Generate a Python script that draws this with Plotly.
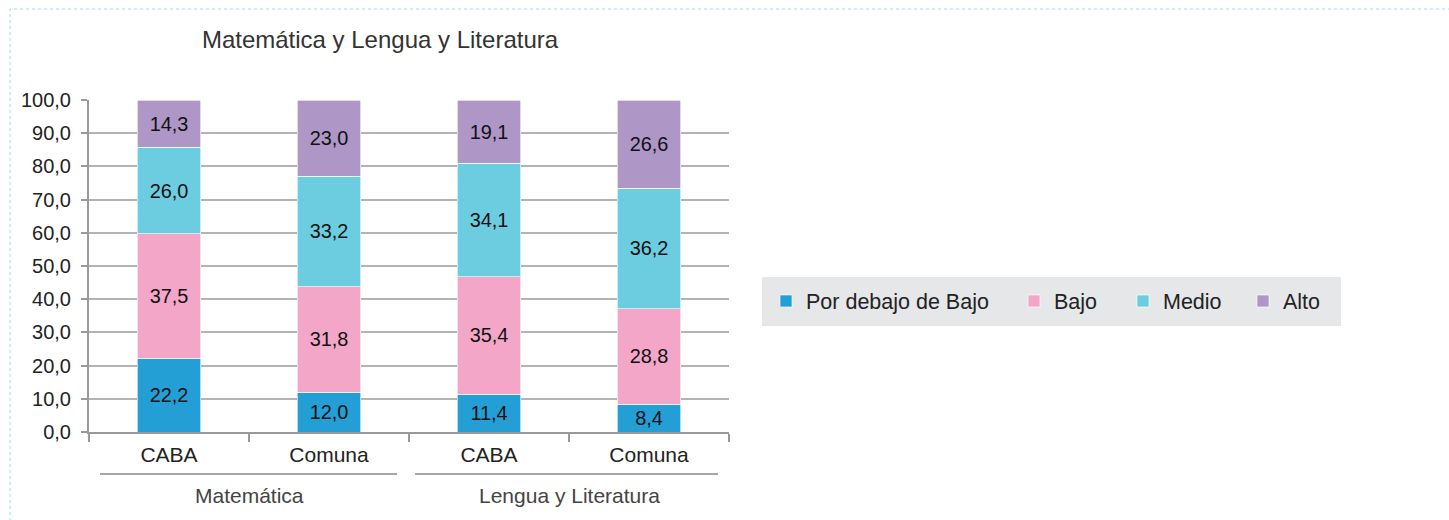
import plotly.graph_objects as go

materias = ["Matemática", "Matemática", "Lengua y Literatura", "Lengua y Literatura"]
ambitos = ["CABA", "Comuna", "CABA", "Comuna"]

niveles = ["Por debajo de Bajo", "Bajo", "Medio", "Alto"]
por_debajo = [22.2, 12.0, 11.4, 8.4]
bajo = [37.5, 31.8, 35.4, 28.8]
medio = [26.0, 33.2, 34.1, 36.2]
alto = [14.3, 23.0, 19.1, 26.6]
colores = ["#239fd6", "#f4a6c9", "#6ccde0", "#ae96c6"]

y_ticks = [0, 10, 20, 30, 40, 50, 60, 70, 80, 90, 100]

FONT = "Liberation Sans, Arial, sans-serif"

# plot area geometry (pixels)
L, R_EDGE, T, B_EDGE = 89, 729, 100, 432
W, H = 1449, 520
PW, PH = R_EDGE - L, B_EDGE - T


def px_x(x):
    return (x - L) / PW


def px_y(y):
    return (B_EDGE - y) / PH


# unique category keys built from the two label levels
claves = [f"{m} | {a}" for m, a in zip(materias, ambitos)]

legend_ids = ["legend", "legend2", "legend3", "legend4"]
legend_left_px = [766, 1014, 1123, 1243]

fig = go.Figure()
for nombre, vals, col, lid in zip(niveles, [por_debajo, bajo, medio, alto], colores, legend_ids):
    fig.add_trace(go.Bar(
        name=nombre,
        legend=lid,
        x=claves,
        y=vals,
        marker=dict(color=col, line=dict(color="rgba(255,255,255,0.8)", width=0.8)),
        texttemplate="%{y:.1f}",
        textposition="inside",
        insidetextanchor="middle",
        textfont=dict(color="#111111", size=20, family=FONT),
        hoverinfo="skip",
    ))

legend_common = dict(orientation="h", xanchor="left", y=px_y(301), yanchor="middle",
                     bgcolor="rgba(0,0,0,0)", itemwidth=30,
                     font=dict(size=21.5, color="#222222", family=FONT))
legends = {lid: dict(x=px_x(xl), **legend_common) for lid, xl in zip(legend_ids, legend_left_px)}

fig.update_layout(
    barmode="stack",
    bargap=0.604,
    separators=",.",
    width=W, height=H,
    margin=dict(l=L, r=W - R_EDGE, t=T, b=H - B_EDGE),
    paper_bgcolor="white",
    plot_bgcolor="white",
    font=dict(family=FONT, size=20, color="#222222"),
    title=dict(text="Matemática y Lengua y Literatura", x=380 / W, xref="container",
               xanchor="center", y=1 - 40 / H, yanchor="middle",
               font=dict(size=24, color="#333333", family=FONT)),
    uniformtext=dict(minsize=16, mode="show"),
    showlegend=True,
    **legends,
)

fig.update_yaxes(
    range=[0, 100], tickvals=y_ticks, tickformat=".1f",
    showgrid=True, gridcolor="#b3b3b3", gridwidth=1.5,
    showline=True, linecolor="#999999", linewidth=2,
    ticks="outside", ticklen=6, tickcolor="#999999", tickwidth=1.5,
    ticklabelstandoff=6,
    tickfont=dict(size=20, color="#222222"), zeroline=False,
)

fig.update_xaxes(
    type="category", tickvals=claves, ticktext=ambitos,
    ticks="outside", tickson="boundaries", ticklen=8, tickcolor="#999999", tickwidth=1.5,
    ticklabelstandoff=3,
    showline=True, linecolor="#999999", linewidth=2,
    tickfont=dict(size=21, color="#222222"),
)

# group (outer) labels centred under their categories
grupos = list(dict.fromkeys(materias))
for g in grupos:
    idx = [i for i, m in enumerate(materias) if m == g]
    fig.add_annotation(text=g, xref="x", yref="paper", x=sum(idx) / len(idx), y=px_y(495),
                       yanchor="middle", xanchor="center", showarrow=False,
                       font=dict(size=21, color="#444444", family=FONT))

# legend background panel
fig.add_shape(type="rect", xref="paper", yref="paper",
              x0=px_x(762), x1=px_x(1341), y0=px_y(326), y1=px_y(277),
              fillcolor="#e6e7e9", line=dict(width=0), layer="below")

# underlines below the inner category labels
line_style = dict(color="#888888", width=1.5)
fig.add_shape(type="line", xref="paper", yref="paper", x0=px_x(100), x1=px_x(397),
              y0=px_y(474), y1=px_y(474), line=line_style)
fig.add_shape(type="line", xref="paper", yref="paper", x0=px_x(415), x1=px_x(718),
              y0=px_y(474), y1=px_y(474), line=line_style)

# dotted frame
fig.add_shape(type="rect", xref="paper", yref="paper",
              x0=px_x(10), x1=px_x(1470), y0=px_y(540), y1=px_y(9),
              line=dict(color="#9fdbe4", width=1, dash="dot"), layer="below")

fig.write_html("out.html", config={"displayModeBar": False},
               post_script="document.body.style.margin='0px';")
